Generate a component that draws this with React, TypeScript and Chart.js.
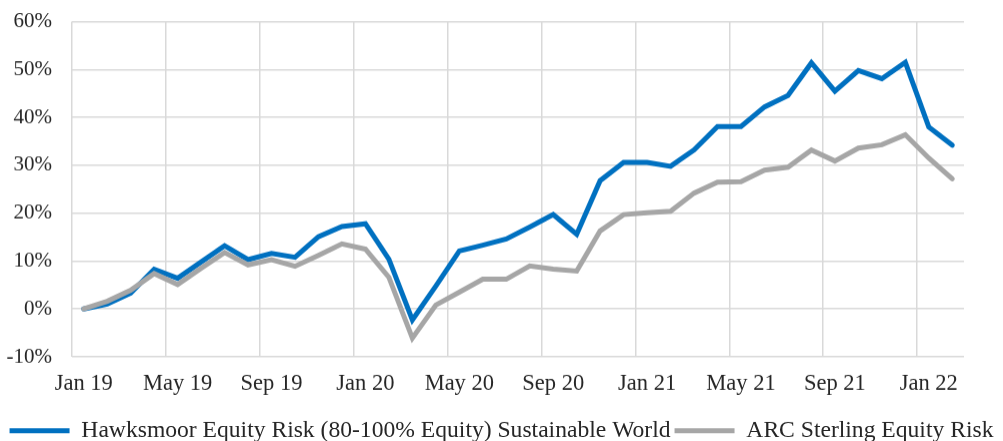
import React, { useEffect, useRef } from "react";
import { Chart, registerables } from "chart.js";

Chart.register(...registerables);

const categories = [
  "Jan 19", "Feb 19", "Mar 19", "Apr 19", "May 19", "Jun 19", "Jul 19", "Aug 19", "Sep 19", "Oct 19", "Nov 19", "Dec 19",
  "Jan 20", "Feb 20", "Mar 20", "Apr 20", "May 20", "Jun 20", "Jul 20", "Aug 20", "Sep 20", "Oct 20", "Nov 20", "Dec 20",
  "Jan 21", "Feb 21", "Mar 21", "Apr 21", "May 21", "Jun 21", "Jul 21", "Aug 21", "Sep 21", "Oct 21", "Nov 21", "Dec 21",
  "Jan 22", "Feb 22",
];

const hawksmoor = [
  0, 1.0, 3.3, 8.3, 6.4, 9.8, 13.2, 10.3, 11.6, 10.8, 15.1, 17.2,
  17.8, 10.4, -2.3, 4.8, 12.1, 13.3, 14.6, 17.1, 19.7, 15.6, 26.8, 30.6,
  30.6, 29.8, 33.2, 38.1, 38.1, 42.2, 44.6, 51.4, 45.5, 49.8, 48.1, 51.5,
  38.0, 34.2,
];

const arc = [
  0, 1.6, 3.9, 7.4, 5.1, 8.5, 11.8, 9.2, 10.3, 8.9, 11.2, 13.6,
  12.5, 6.6, -6.1, 0.8, 3.5, 6.2, 6.2, 9.0, 8.3, 7.9, 16.3, 19.7,
  20.1, 20.4, 24.2, 26.5, 26.6, 29.0, 29.6, 33.2, 30.9, 33.6, 34.3, 36.4,
  31.5, 27.2,
];

const seriesNames = [
  "Hawksmoor Equity Risk (80-100% Equity) Sustainable World",
  "ARC Sterling Equity Risk",
];
const seriesColors = ["#0070C0", "#A6A6A6"];

const yMin = -10;
const yMax = 60;
const yStep = 10;

const FONT = "'Liberation Serif', 'Times New Roman', serif";
const TEXT = "#262626";
const GRID = "#d9d9d9";

export default function App() {
  const ref = useRef<HTMLCanvasElement | null>(null);

  useEffect(() => {
    if (!ref.current) return;
    const chart = new Chart(ref.current, {
      type: "line",
      data: {
        labels: categories,
        datasets: [
          {
            label: seriesNames[0],
            data: hawksmoor,
            borderColor: seriesColors[0],
            backgroundColor: seriesColors[0],
            borderWidth: 5,
            pointRadius: 0,
            tension: 0,
            borderCapStyle: "round",
            order: 1,
          },
          {
            label: seriesNames[1],
            data: arc,
            borderColor: seriesColors[1],
            backgroundColor: seriesColors[1],
            borderWidth: 5,
            pointRadius: 0,
            tension: 0,
            borderCapStyle: "round",
            order: 0,
          },
        ],
      },
      options: {
        animation: false,
        responsive: true,
        maintainAspectRatio: false,
        layout: { autoPadding: false, padding: { left: 0, right: 0, top: 22, bottom: 0 } },
        plugins: {
          tooltip: { enabled: false },
          legend: {
            position: "bottom",
            labels: {
              font: { family: FONT, size: 23.6 },
              color: TEXT,
              boxWidth: 60,
              boxHeight: 5,
              padding: 4,
              generateLabels: (c: any) =>
                c.data.datasets.map((ds: any, i: number) => ({
                  text: ds.label,
                  fillStyle: ds.borderColor,
                  strokeStyle: ds.borderColor,
                  lineWidth: 0,
                  hidden: false,
                  datasetIndex: i,
                  fontColor: TEXT,
                })),
            },
          },
        },
        scales: {
          x: {
            offset: true,
            afterFit: (s: any) => {
              s.height += 3;
            },
            grid: {
              offset: true,
              drawTicks: false,
              lineWidth: 1.5,
              color: (ctx: any) =>
                typeof ctx.index === "number" && ctx.index % 4 === 0 && ctx.index < categories.length
                  ? GRID
                  : "rgba(0,0,0,0)",
            },
            border: { display: false },
            ticks: {
              autoSkip: false,
              maxRotation: 0,
              padding: 14,
              color: TEXT,
              font: { family: FONT, size: 22.5 },
              callback: function (this: any, value: any, index: number) {
                return index % 4 === 0 ? categories[index] : "";
              },
            },
          },
          y: {
            min: yMin,
            max: yMax,
            afterFit: (s: any) => {
              s.width = 72;
            },
            grid: { drawTicks: false, color: GRID, lineWidth: 1.5 },
            border: { display: false },
            ticks: {
              stepSize: yStep,
              padding: 20,
              color: TEXT,
              font: { family: FONT, size: 21 },
              callback: (v: any) => `${v}%`,
            },
          },
          yRight: {
            type: "linear",
            position: "right",
            display: true,
            afterFit: (s: any) => {
              s.width = 39;
            },
            grid: { display: false, drawTicks: false },
            border: { display: false },
            ticks: { display: false },
          },
        },
      },
    });
    return () => chart.destroy();
  }, []);

  return (
    <div style={{ position: "absolute", left: 0, top: 0, width: 1003, height: 441, overflow: "hidden", background: "#fff" }}>
      <div style={{ position: "absolute", left: 0, top: -10.6, width: 1003, height: 462.6 }}>
        <canvas ref={ref} />
      </div>
    </div>
  );
}
